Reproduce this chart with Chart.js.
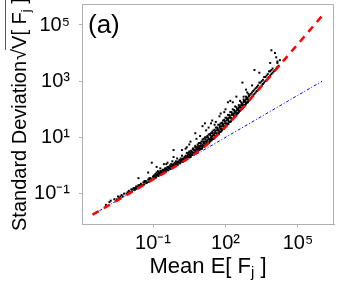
<!DOCTYPE html>
<html>
<head>
<meta charset="utf-8">
<script src="https://cdn.jsdelivr.net/npm/chart.js@4.4.0/dist/chart.umd.min.js"></script>
<style>
  html, body { margin: 0; padding: 0; background: #fff; }
  canvas { display: block; }
</style>
</head>
<body>
<canvas id="grafik" width="338" height="286"></canvas>
<script>
// tick marks on both log axes
const xTickVals = [1e-1, 1e2, 1e5];
const xTickLabels = ['10\u207B\u00B9', '10\u00B2', '10\u2075'];
const yTickVals = [1e-1, 1e1, 1e3, 1e5];
const yTickLabels = ['10\u207B\u00B9', '10\u00B9', '10\u00B3', '10\u2075'];

// red dashed curve
const fitMean = [3.16e-4, 1e-3, 1e-2, 1e-1, 1, 3.16, 10, 31.6, 100, 316, 1000, 3160, 1e4, 1e5, 1e6];
const fitSd = [1.78e-2, 3.16e-2, 1e-1, 3.17e-1, 1.02, 1.9, 3.81, 8.75, 23.5, 69.4, 214, 673, 2120, 2.12e4, 2.12e5];

// blue dash-dot line
const poissonMean = [3.16e-4, 1e6];
const poissonSd = [1.78e-2, 1e3];

// black dots: [mean, standard deviation]
const cellPoints = [
  [1.12e-3, 3.98e-2], [1.58e-3, 5.01e-2], [1.78e-3, 5.62e-2], [2.51e-3, 6.31e-2],
  [3.16e-3, 6.31e-2], [3.55e-3, 7.94e-2], [3.98e-3, 7.08e-2], [4.47e-3, 7.94e-2],
  [5.01e-3, 8.91e-2], [5.62e-3, 7.94e-2], [6.31e-3, 1e-1], [7.94e-3, 1e-1],
  [8.91e-3, 1.12e-1], [1e-2, 1.26e-1], [1.12e-2, 1.12e-1], [1.26e-2, 1.41e-1],
  [1.41e-2, 1.41e-1], [1.58e-2, 1.58e-1], [1.78e-2, 1.41e-1], [1.78e-2, 1.58e-1],
  [2e-2, 1.78e-1], [2.24e-2, 1.78e-1], [2.51e-2, 2e-1], [2.51e-2, 3.55e-1],
  [2.82e-2, 2e-1], [3.16e-2, 2.24e-1], [3.55e-2, 2e-1], [3.98e-2, 2.51e-1],
  [4.47e-2, 2.51e-1], [4.47e-2, 2.82e-1], [5.01e-2, 2.82e-1], [5.62e-2, 2.51e-1],
  [6.31e-2, 3.16e-1], [6.31e-2, 5.62e-1], [7.08e-2, 3.16e-1], [7.08e-2, 3.55e-1],
  [7.94e-2, 3.55e-1], [8.91e-2, 3.16e-1], [8.91e-2, 1.26], [1e-1, 3.98e-1],
  [1.41e-1, 8.91e-1],
  [1.06e-2, 1.06e-1], [1.33e-2, 1.19e-1], [1.68e-2, 1.33e-1], [2.11e-2, 1.5e-1],
  [2.66e-2, 1.68e-1], [3.35e-2, 1.88e-1], [4.22e-2, 2.11e-1], [5.31e-2, 2.37e-1],
  [6.68e-2, 2.66e-1], [8.41e-2, 2.99e-1],
  [1.12e-1, 3.98e-1], [1.12e-1, 4.47e-1],
  [1.26e-1, 3.98e-1], [1.26e-1, 5.01e-1],
  [1.41e-1, 4.47e-1], [1.41e-1, 5.62e-1],
  [1.58e-1, 4.47e-1], [1.58e-1, 5.01e-1], [1.58e-1, 6.31e-1],
  [1.78e-1, 5.01e-1], [1.78e-1, 5.62e-1],
  [2e-1, 5.01e-1], [2e-1, 6.31e-1], [2e-1, 7.94e-1],
  [2.24e-1, 5.62e-1], [2.24e-1, 6.31e-1],
  [2.51e-1, 5.62e-1], [2.51e-1, 7.08e-1],
  [2.82e-1, 6.31e-1], [2.82e-1, 7.08e-1], [2.82e-1, 1.12],
  [3.16e-1, 6.31e-1], [3.16e-1, 7.94e-1],
  [3.55e-1, 7.08e-1], [3.55e-1, 7.94e-1], [3.55e-1, 1.12],
  [3.98e-1, 7.08e-1], [3.98e-1, 8.91e-1], [3.98e-1, 1.26],
  [4.47e-1, 7.94e-1], [4.47e-1, 8.91e-1],
  [5.01e-1, 7.94e-1], [5.01e-1, 1],
  [5.62e-1, 8.91e-1], [5.62e-1, 1.12],
  [6.31e-1, 8.91e-1], [6.31e-1, 1], [6.31e-1, 1.41],
  [7.08e-1, 1], [7.08e-1, 1.12], [7.08e-1, 2], [7.08e-1, 3.55],
  [7.94e-1, 1], [7.94e-1, 1.26],
  [8.91e-1, 1.12], [8.91e-1, 1.41],
  [1, 1.12], [1, 1.26], [1, 1.78],
  [1.12, 1.26], [1.12, 1.41],
  [1.26, 1.26], [1.26, 1.58],
  [1.41, 1.41], [1.41, 1.78],
  [1.58, 1.41], [1.58, 1.58], [1.58, 2.24], [1.58, 3.55],
  [1.78, 1.58], [1.78, 1.78],
  [2, 1.58], [2, 2],
  [2.24, 1.78], [2.24, 2.24], [2.24, 3.98],
  [2.51, 1.78], [2.51, 2], [2.51, 2.82], [2.51, 4.47],
  [2.82, 2], [2.82, 2.51],
  [3.16, 2], [3.16, 2.24], [3.16, 3.16], [3.16, 5.62],
  [3.55, 2.24], [3.55, 2.82], [3.55, 7.08],
  [3.98, 2.51], [3.98, 3.16],
  [4.47, 2.51], [4.47, 2.82], [4.47, 3.98],
  [5.01, 2.82], [5.01, 3.55],
  [5.62, 2.82], [5.62, 3.55], [5.62, 4.47], [5.62, 5.01], [5.62, 14.1],
  [6.31, 3.16], [6.31, 3.98], [6.31, 8.91],
  [7.08, 3.55], [7.08, 4.47], [7.08, 5.62],
  [7.94, 3.55], [7.94, 3.98], [7.94, 6.31],
  [8.91, 3.98], [8.91, 5.01], [8.91, 6.31], [8.91, 11.2],
  [1.06e-1, 3.35e-1], [1.06e-1, 4.22e-1], [1.33e-1, 3.76e-1], [1.33e-1, 4.73e-1],
  [1.68e-1, 4.22e-1], [1.68e-1, 5.31e-1], [2.11e-1, 4.73e-1], [2.11e-1, 5.96e-1],
  [2.66e-1, 5.31e-1], [2.66e-1, 6.68e-1], [3.35e-1, 5.96e-1], [3.35e-1, 7.5e-1],
  [4.22e-1, 6.68e-1], [4.22e-1, 8.41e-1], [5.31e-1, 7.5e-1], [5.31e-1, 9.44e-1],
  [6.68e-1, 8.41e-1], [6.68e-1, 1.06], [8.41e-1, 9.44e-1], [8.41e-1, 1.19],
  [1.06, 1.06], [1.06, 1.33], [1.33, 1.19], [1.33, 1.5],
  [1.68, 1.33], [1.68, 1.68], [2.11, 1.5], [2.11, 1.88],
  [2.66, 1.78], [2.66, 2.24], [3.35, 2], [3.35, 2.51],
  [4.22, 2.37], [4.22, 2.99], [5.31, 2.66], [5.31, 3.35],
  [6.68, 2.99], [6.68, 3.76], [8.41, 3.55], [8.41, 4.47],
  [2.99, 2], [2.99, 2.82], [3.76, 2.24], [3.76, 3.35],
  [4.73, 2.66], [4.73, 3.76], [5.96, 2.99], [5.96, 4.47],
  [7.5, 3.55], [7.5, 5.01], [9.44, 3.98], [9.44, 5.96],
  [4.47, 3.98],
  [10, 3.98], [10, 5.01], [10, 7.08],
  [11.2, 4.47], [11.2, 5.62], [11.2, 8.41], [11.2, 25.1],
  [12.6, 5.01], [12.6, 6.31], [12.6, 8.91],
  [14.1, 5.01], [14.1, 7.08], [14.1, 10], [14.1, 31.6],
  [15.8, 5.62], [15.8, 7.08], [15.8, 10], [15.8, 17.8],
  [17.8, 6.31], [17.8, 7.94], [17.8, 11.2],
  [20, 6.31], [20, 8.91], [20, 12.6], [20, 22.4],
  [22.4, 7.08], [22.4, 8.91], [22.4, 13.3],
  [25.1, 7.94], [25.1, 10], [25.1, 14.1], [25.1, 31.6],
  [28.2, 8.91], [28.2, 11.2], [28.2, 15.8], [28.2, 39.8],
  [31.6, 8.91], [31.6, 12.6], [31.6, 17.8],
  [35.5, 10], [35.5, 14.1], [35.5, 18.8], [35.5, 28.2],
  [39.8, 11.2], [39.8, 14.1], [39.8, 22.4], [39.8, 35.5],
  [44.7, 12.6], [44.7, 17.8], [44.7, 22.4],
  [50.1, 14.1], [50.1, 17.8], [50.1, 28.2],
  [56.2, 15.8], [56.2, 22.4], [56.2, 28.2], [56.2, 56.2],
  [63.1, 15.8], [63.1, 20], [63.1, 31.6], [63.1, 70.8],
  [70.8, 17.8], [70.8, 25.1], [70.8, 33.5],
  [79.4, 20], [79.4, 28.2], [79.4, 39.8],
  [89.1, 22.4], [89.1, 31.6], [89.1, 42.2], [89.1, 79.4],
  [100, 25.1], [100, 31.6], [100, 50.1], [100, 100],
  [112, 28.2], [112, 39.8], [112, 50.1],
  [126, 31.6], [126, 44.7], [126, 63.1], [126, 178],
  [141, 35.5], [141, 50.1], [141, 63.1],
  [158, 35.5], [158, 50.1], [158, 79.4], [158, 200],
  [178, 44.7], [178, 63.1], [178, 79.4],
  [200, 44.7], [200, 63.1], [200, 100], [200, 178],
  [224, 56.2], [224, 70.8], [224, 94.4],
  [251, 56.2], [251, 79.4], [251, 126],
  [282, 63.1], [282, 89.1], [282, 119], [282, 282],
  [316, 70.8], [316, 100],
  [10.6, 3.98], [10.6, 5.01], [13.3, 4.73], [13.3, 5.96],
  [16.8, 5.62], [16.8, 7.08], [21.1, 6.68], [21.1, 8.41],
  [26.6, 7.94], [26.6, 10], [33.5, 9.44], [33.5, 11.9],
  [42.2, 11.2], [42.2, 14.1], [53.1, 13.3], [53.1, 17.8],
  [66.8, 16.8], [66.8, 21.1], [84.1, 20], [84.1, 25.1],
  [106, 25.1], [106, 31.6], [133, 29.9], [133, 39.8],
  [168, 37.6], [168, 50.1], [211, 47.3], [211, 63.1],
  [266, 59.6], [266, 75], [335, 75], [335, 94.4],
  [422, 94.4], [422, 119], [531, 112], [531, 141],
  [668, 141], [668, 178], [841, 178], [841, 224],
  [11.9, 4.73], [11.9, 7.08], [15, 5.62], [15, 8.41],
  [18.8, 6.31], [18.8, 10], [23.7, 7.5], [23.7, 11.9],
  [29.9, 8.91], [29.9, 14.1], [37.6, 11.2], [37.6, 16.8],
  [47.3, 13.3], [47.3, 20], [59.6, 15.8], [59.6, 25.1],
  [75, 20], [75, 29.9], [94.4, 23.7], [94.4, 37.6],
  [119, 29.9], [119, 44.7], [150, 35.5], [150, 56.2],
  [188, 44.7], [188, 70.8], [237, 56.2], [237, 84.1],
  [299, 70.8], [299, 106], [376, 89.1], [376, 126],
  [473, 112], [473, 158], [596, 133], [596, 200],
  [750, 168], [750, 251], [944, 211], [944, 299],
  [355, 79.4], [355, 112], [355, 141],
  [398, 89.1], [398, 126], [398, 200],
  [447, 100], [447, 141], [447, 178],
  [501, 112], [501, 158], [501, 891],
  [562, 126], [562, 178], [562, 224], [562, 282],
  [631, 141], [631, 200],
  [708, 158], [708, 224], [708, 282], [708, 501],
  [794, 178], [794, 251], [794, 398],
  [891, 200], [891, 282], [891, 355],
  [1000, 224], [1000, 316],
  [1120, 251], [1120, 355], [1410, 316], [1410, 447],
  [1780, 398], [1780, 562], [2240, 501], [2240, 708],
  [2820, 631], [2820, 891], [3550, 794], [3550, 1120],
  [4470, 1000], [4470, 1410], [5620, 1260], [5620, 1780],
  [7080, 1580], [7080, 2240], [8910, 2000], [8910, 2820],
  [11200, 2510], [14100, 3160], [14100, 5010],
  [1260, 282], [1260, 398], [1260, 708],
  [1580, 355], [1580, 501], [1580, 2510],
  [2000, 447], [2000, 631],
  [2510, 562], [2510, 891], [2510, 2000],
  [3160, 708], [3160, 1000],
  [3980, 891], [3980, 1410],
  [5010, 1120], [5010, 1580],
  [6310, 1410], [6310, 2240],
  [7080, 4470],
  [7940, 1780], [7940, 2510], [7940, 12600],
  [10000, 2240],
  [11200, 10000],
  [12600, 2820], [12600, 7080],
  [14100, 4470],
  [15800, 3550],
  [17800, 5620]
];

const FONT = '"Liberation Sans", Arial, sans-serif';
const FRAME = '#b0b0b0';

// frame on top/right, axis titles with subscripts and the panel letter
const extraText = {
  id: 'extraText',
  afterDraw(chart) {
    const ctx = chart.ctx;
    const a = chart.chartArea;
    ctx.save();
    ctx.strokeStyle = FRAME;
    ctx.lineWidth = 1;
    ctx.beginPath();
    ctx.moveTo(a.left, a.top + 0.5);
    ctx.lineTo(a.right - 0.5, a.top + 0.5);
    ctx.lineTo(a.right - 0.5, a.bottom);
    ctx.stroke();

    ctx.fillStyle = '#000';
    ctx.textBaseline = 'alphabetic';
    ctx.textAlign = 'left';

    // panel letter
    ctx.font = '26px ' + FONT;
    ctx.fillText('(a)', 88, 33);

    // x title
    const big = '22px ' + FONT, small = '15px ' + FONT;
    ctx.font = big;
    const p1 = 'Mean E[ F', p3 = ' ]';
    const w1 = ctx.measureText(p1).width;
    const w3 = ctx.measureText(p3).width;
    ctx.font = small;
    const w2 = ctx.measureText('j').width;
    let x0 = 208 - (w1 + w2 + w3) / 2;
    ctx.font = big;
    ctx.fillText(p1, x0, 273);
    ctx.font = small;
    ctx.fillText('j', x0 + w1, 277);
    ctx.font = big;
    ctx.fillText(p3, x0 + w1 + w2, 273);

    // y title, rotated
    ctx.translate(26, 231);
    ctx.rotate(-Math.PI / 2);
    const yb = '20px ' + FONT, ys = '13px ' + FONT;
    ctx.font = yb;
    const s1 = 'Standard Deviation';
    ctx.fillText(s1, 0, 0);
    let t = ctx.measureText(s1).width + 1;
    ctx.fillText('\u221A', t, 0);
    const rw = ctx.measureText('\u221A').width;
    const tOver = t + rw - 1;
    t += rw;
    ctx.fillText('V[ F', t, 0);
    t += ctx.measureText('V[ F').width;
    ctx.font = ys;
    ctx.fillText('j', t, 4);
    t += ctx.measureText('j').width;
    ctx.font = yb;
    ctx.fillText(' ]', t, 0);
    t += ctx.measureText(' ]').width;
    ctx.strokeStyle = '#555';
    ctx.beginPath();
    ctx.moveTo(tOver, -20.5);
    ctx.lineTo(t + 1, -20.5);
    ctx.stroke();
    ctx.restore();
  }
};

function axisOpts(vals, labels, minV, maxV) {
  return {
    type: 'logarithmic',
    min: minV,
    max: maxV,
    afterBuildTicks: s => { s.ticks = vals.map(v => ({ value: v })); },
    grid: { display: true, drawOnChartArea: false, drawTicks: true, tickLength: 3, color: FRAME },
    border: { display: true, color: FRAME, width: 1 },
    ticks: {
      autoSkip: false,
      maxRotation: 0,
      color: '#000',
      font: { family: FONT, size: 20 },
      callback: v => labels[vals.indexOf(v)]
    }
  };
}

// fixed plot box: x 82..334, y 4..224
const xAxis = axisOpts(xTickVals, xTickLabels, 1.15e-4, 3.1e6);
xAxis.afterFit = s => { s.height = 62; s.paddingLeft = 0; s.paddingRight = 0; };
xAxis.ticks.padding = 4;
const yAxis = axisOpts(yTickVals, yTickLabels, 8.3e-3, 5.58e5);
yAxis.afterFit = s => { s.width = 82; s.paddingTop = 0; s.paddingBottom = 0; };
yAxis.ticks.padding = 9;

const config = {
  type: 'scatter',
  data: {
    datasets: [
      {
        label: 'fit',
        data: fitMean.map((m, i) => ({ x: m, y: fitSd[i] })),
        showLine: true,
        borderColor: '#ff0000',
        borderWidth: 2.5,
        borderDash: [7, 6],
        pointRadius: 0,
        fill: false,
        order: 0
      },
      {
        label: 'cells',
        data: cellPoints.map(p => ({ x: p[0], y: p[1] })),
        pointStyle: 'rect',
        pointRadius: 1.4,
        backgroundColor: '#000',
        borderWidth: 0,
        order: 1
      },
      {
        label: 'poisson',
        data: poissonMean.map((m, i) => ({ x: m, y: poissonSd[i] })),
        showLine: true,
        borderColor: '#0000ff',
        borderWidth: 1,
        borderDash: [3, 2, 1, 2],
        pointRadius: 0,
        fill: false,
        order: 2
      }
    ]
  },
  options: {
    responsive: false,
    animation: false,
    events: [],
    layout: { padding: { top: 4, right: 4, left: 0, bottom: 0 } },
    plugins: { legend: { display: false }, tooltip: { enabled: false } },
    scales: { x: xAxis, y: yAxis }
  },
  plugins: [extraText]
};

const grafik = new Chart(document.getElementById('grafik').getContext('2d'), config);
</script>
</body>
</html>
